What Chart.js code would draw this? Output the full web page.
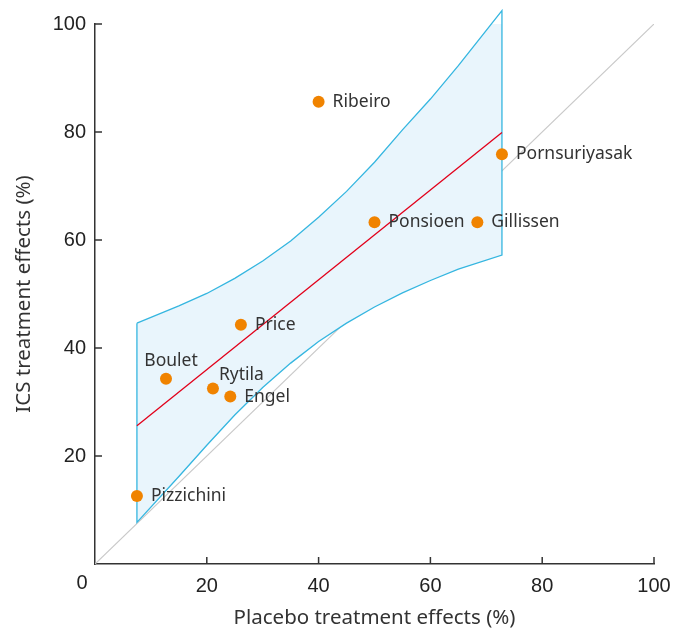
<!DOCTYPE html>
<html><head><meta charset="utf-8">
<script src="https://cdn.jsdelivr.net/npm/chart.js@4/dist/chart.umd.min.js"></script>
<style>html,body{margin:0;padding:0;background:#fff}#wrap{width:673px;height:632px}</style>
</head><body><div id="wrap"><canvas id="c" width="673" height="632"></canvas></div>
<script>
// Study names and values
const studies = ["Ribeiro","Pornsuriyasak","Ponsioen","Gillissen","Price","Boulet","Rytila","Engel","Pizzichini"];
const placeboEffect = [40.0, 72.8, 50.0, 68.4, 26.1, 12.7, 21.1, 24.2, 7.5];
const icsEffect = [85.6, 75.9, 63.3, 63.3, 44.3, 34.3, 32.5, 31.0, 12.6];
// Regression line endpoints
const fitX = [7.5, 72.8];
const fitY = [25.6, 79.9];
// Confidence band
const bandX = [7.5, 15, 20, 25, 30, 35, 40, 45, 50, 55, 60, 65, 72.8];
const bandUpper = [44.6, 47.8, 50.1, 52.9, 56.1, 59.8, 64.2, 69.0, 74.4, 80.4, 86.1, 92.3, 102.5];
const bandLower = [7.7, 16.2, 22.0, 27.6, 32.7, 37.2, 41.2, 44.6, 47.6, 50.2, 52.5, 54.6, 57.2];
// Identity line
const idX = [0, 100];
const idY = [0, 100];
const xTicks = [0, 20, 40, 60, 80, 100];
const yTicks = [20, 40, 60, 80, 100];

const LABEL_FONT = '"Noto Sans", sans-serif';
const TICK_FONT = '"Liberation Sans", Arial, sans-serif';

const band = [];
bandX.forEach((x,i)=>band.push({x, y: bandUpper[i]}));
for (let i = bandX.length-1; i >= 0; i--) band.push({x: bandX[i], y: bandLower[i]});
band.push({x: bandX[0], y: bandUpper[0]});

const pts = placeboEffect.map((x,i)=>({x, y: icsEffect[i]}));

// label placement: [dx, dy, align]
const labelPos = {
  Boulet: [5, -18, 'center'],
  Rytila: [6, -13, 'left']
};

const labelPlugin = {
  id: 'pointLabels',
  afterDatasetsDraw(chart) {
    const ctx = chart.ctx;
    const meta = chart.getDatasetMeta(0);
    ctx.save();
    ctx.font = '17.5px ' + LABEL_FONT;
    ctx.fillStyle = '#333';
    ctx.textBaseline = 'middle';
    meta.data.forEach((el, i) => {
      const name = studies[i];
      const p = labelPos[name] || [14, 0, 'left'];
      ctx.textAlign = p[2];
      ctx.fillText(name, el.x + p[0], el.y + p[1]);
    });
    ctx.restore();
  },
  afterDraw(chart) {
    const ctx = chart.ctx;
    const xs = chart.scales.x, ys = chart.scales.y;
    ctx.save();
    // inward tick marks
    ctx.strokeStyle = '#333';
    ctx.lineWidth = 1.5;
    ctx.beginPath();
    xTicks.forEach(v => { if (v === 0) return; const px = xs.getPixelForValue(v); ctx.moveTo(px, ys.bottom); ctx.lineTo(px, ys.bottom - 7); });
    yTicks.forEach(v => { const py = ys.getPixelForValue(v); ctx.moveTo(xs.left, py); ctx.lineTo(xs.left + 7, py); });
    ctx.stroke();
    // shared origin label
    ctx.font = '20px ' + TICK_FONT;
    ctx.fillStyle = '#222';
    ctx.textAlign = 'center';
    ctx.textBaseline = 'middle';
    ctx.fillText('0', xs.getPixelForValue(0) - 13, ys.bottom + 19);
    ctx.restore();
  }
};

new Chart(document.getElementById('c'), {
  type: 'line',
  data: {
    datasets: [
      { data: pts, showLine: false, pointRadius: 6, pointHoverRadius: 6,
        pointBackgroundColor: '#f08300', pointBorderColor: '#f08300', pointBorderWidth: 0, clip: false },
      { data: fitX.map((x,i)=>({x, y: fitY[i]})), borderColor: '#e2001a', borderWidth: 1.3, pointRadius: 0, fill: false },
      { data: band, borderColor: '#35b6e0', borderWidth: 1.3, pointRadius: 0,
        backgroundColor: '#e9f5fc', fill: 'shape', tension: 0, clip: false },
      { data: idX.map((x,i)=>({x, y: idY[i]})), borderColor: '#c9c9c9', borderWidth: 1.2, pointRadius: 0, fill: false }
    ]
  },
  options: {
    responsive: false,
    animation: false,
    events: [],
    layout: { padding: { left: 0, right: 19, top: 24, bottom: 0 } },
    plugins: { legend: { display: false }, tooltip: { enabled: false } },
    scales: {
      x: {
        type: 'linear', min: 0, max: 100,
        afterBuildTicks: s => { s.ticks = xTicks.map(v=>({value:v})); },
        afterFit: s => { s.height = 68; s.paddingLeft = 0; s.paddingRight = 0; },
        border: { color: '#333', width: 1.5 },
        grid: { drawOnChartArea: false, drawTicks: false },
        ticks: { padding: 10, color: '#222', font: { family: TICK_FONT, size: 20 }, maxRotation: 0,
          callback: v => v === 0 ? '' : String(v) },
        title: { display: true, text: 'Placebo treatment effects (%)', color: '#333',
          font: { family: LABEL_FONT, size: 20.5 }, padding: { top: 14, bottom: 2 } }
      },
      y: {
        type: 'linear', min: 0, max: 100,
        afterBuildTicks: s => { s.ticks = yTicks.map(v=>({value:v})); },
        afterFit: s => { s.width = 95; s.paddingTop = 0; s.paddingBottom = 0; },
        border: { color: '#333', width: 1.5 },
        grid: { drawOnChartArea: false, drawTicks: false },
        ticks: { padding: 9, color: '#222', font: { family: TICK_FONT, size: 20 } },
        title: { display: true, text: 'ICS treatment effects (%)', color: '#333',
          font: { family: LABEL_FONT, size: 20.5 }, padding: { top: 12, bottom: 0 } }
      }
    }
  },
  plugins: [labelPlugin]
});
</script></body></html>
